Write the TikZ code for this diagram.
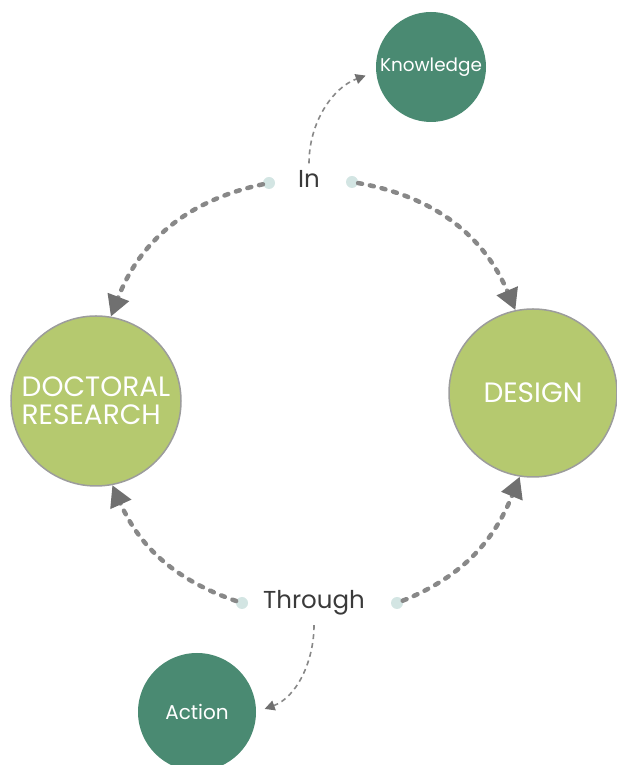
\documentclass[tikz,border=0pt]{standalone}
\usepackage{fontspec}
\setmainfont{Poppins}
\usetikzlibrary{arrows.meta}
\definecolor{leafgreen}{HTML}{B5C96F}
\definecolor{rimgray}{HTML}{9C9C9C}
\definecolor{tealgreen}{HTML}{4A8A72}
\definecolor{dotblue}{HTML}{D3E5E3}
\definecolor{dashgray}{HTML}{888888}
\definecolor{tipgray}{HTML}{707070}
\definecolor{wordgray}{HTML}{3A3A3A}

\begin{document}
\begin{tikzpicture}[x=1pt,y=1pt,
    bigcircle/.style={circle,draw=rimgray,line width=1.5pt,fill=leafgreen,minimum size=170pt,
        inner sep=0pt,align=left,text=white,font=\fontsize{28}{28}\selectfont},
    smallcircle/.style={circle,fill=tealgreen,inner sep=0pt,text=white},
    word/.style={anchor=base,text=wordgray,font=\fontsize{24.5}{28}\selectfont},
    dot/.style={circle,fill=dotblue,minimum size=12pt,inner sep=0pt},
    bigarrow/.style={draw=dashgray,line width=4.5pt,dash pattern=on 4pt off 8pt,line cap=round,
        -{Triangle[length=21pt,width=22pt,color=tipgray]}},
    smallarrow/.style={draw=dashgray,line width=1.6pt,dash pattern=on 5pt off 4pt,
        -{Triangle[length=10pt,width=10pt,color=tipgray]}}]
    \useasboundingbox (0,0) rectangle (617,765);
    \node[bigcircle] (research) at (96,364) {DOCTORAL\\RESEARCH};
    \node[bigcircle,minimum size=168pt] (design) at (533,372) {DESIGN};
    \node[smallcircle,minimum size=110pt,font=\fontsize{18.4}{20}\selectfont] (knowledge) at (431,698) {Knowledge};
    \node[smallcircle,minimum size=118pt,font=\fontsize{20}{22}\selectfont] (action) at (197,53) {Action};
    \node[word] (in) at (309,577) {In};
    \node[word] (through) at (314,156) {Through};
    \node[dot] (inL) at (269,582) {};
    \node[dot] (inR) at (352,583) {};
    \node[dot] (thL) at (242,162) {};
    \node[dot] (thR) at (397,162) {};
    \draw[bigarrow] (inL) to[out=192,in=69] (research.80);
    \draw[bigarrow] (inR) to[out=-10,in=113] (design.102);
    \draw[bigarrow] (thL) to[out=161,in=-66] (research.-79);
    \draw[bigarrow] (thR) to[out=22,in=248] (design.-99);
    \draw[smallarrow,shorten <=4pt,shorten >=11pt] (in.north) to[out=90,in=200] (knowledge.185);
    \draw[smallarrow,shorten <=6pt,shorten >=9pt] (through.south) to[out=-90,in=20] (action.east);
\end{tikzpicture}
\end{document}
